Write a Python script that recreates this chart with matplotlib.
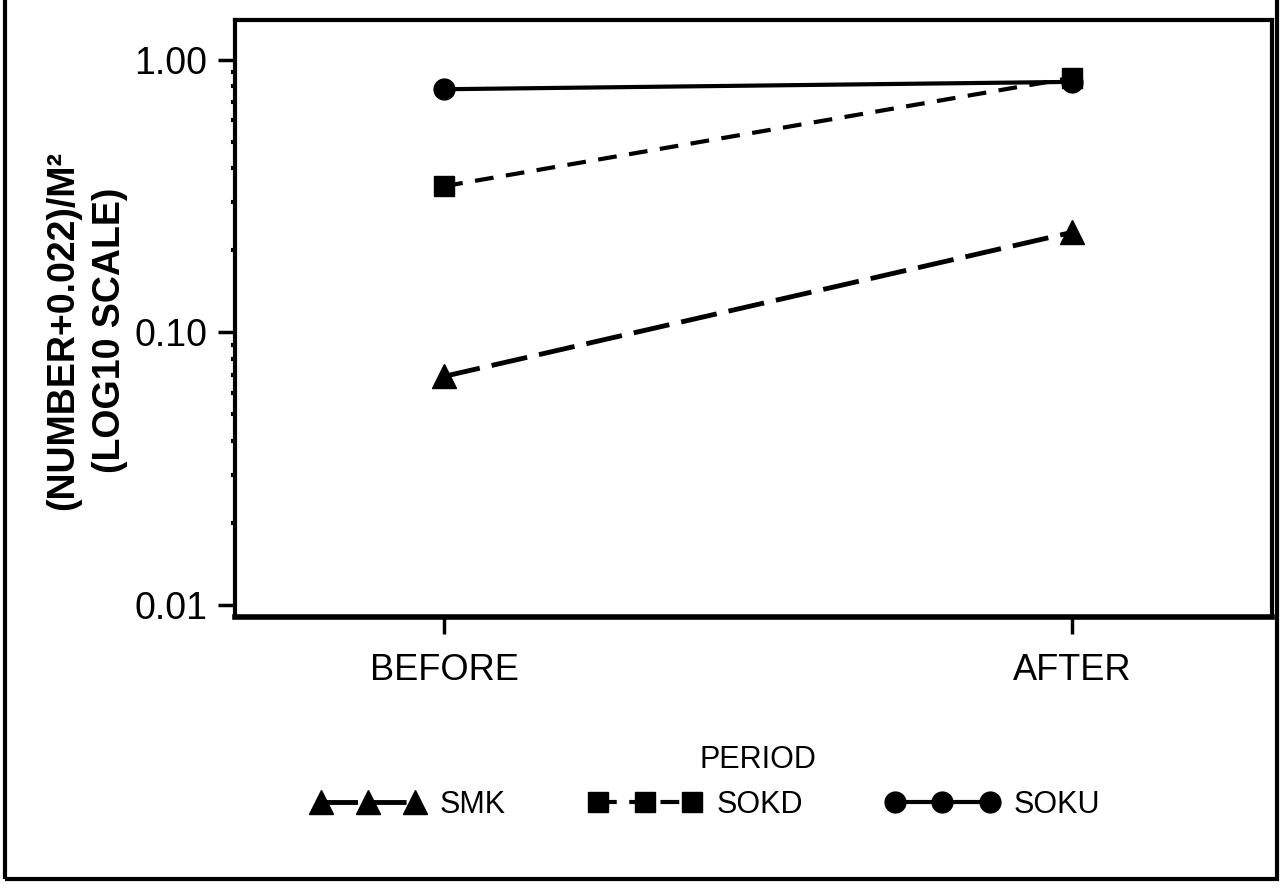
import numpy as np
import matplotlib.pyplot as plt
from matplotlib.ticker import LogLocator, NullFormatter

# values
periods = ['BEFORE', 'AFTER']
smk = [0.069, 0.233]
sokd = [0.344, 0.86]
soku = [0.78, 0.83]
yticks = [0.01, 0.1, 1.0]
ytick_labels = ['0.01', '0.10', '1.00']

plt.rcParams['font.family'] = ['Liberation Sans Narrow', 'Liberation Sans', 'DejaVu Sans']

fig = plt.figure(figsize=(12.81, 8.88), dpi=100)
ax = fig.add_axes([0.1835, 0.3052, 0.8095, 0.6723])

x = np.arange(len(periods))
ax.plot(x, smk, color='black', lw=3.5, ls=(0, (7.5, 2.5)), marker='^', ms=17, label='SMK')
ax.plot(x, sokd, color='black', lw=3, ls=(0, (4.5, 3)), marker='s', ms=14, label='SOKD')
ax.plot(x, soku, color='black', lw=3, ls='-', marker='o', ms=15, label='SOKU')

ax.set_yscale('log')
ax.set_ylim(0.00904, 1.40)
ax.set_xlim(-0.333, 1.318)
ax.set_yticks(yticks)
ax.set_yticklabels(ytick_labels)
ax.yaxis.set_minor_locator(LogLocator(base=10, subs=np.arange(2, 10)))
ax.yaxis.set_minor_formatter(NullFormatter())
ax.set_xticks(x)
ax.set_xticklabels(periods)

ax.tick_params(axis='y', which='major', length=12, width=2.5, labelsize=27, pad=8)
ax.tick_params(axis='y', which='minor', length=3, width=3)
ax.tick_params(axis='x', which='major', length=12, width=2.5, labelsize=26, pad=14)

for side in ['top', 'left', 'right']:
    ax.spines[side].set_linewidth(3)
ax.spines['bottom'].set_linewidth(4)

ax.set_ylabel('(NUMBER+0.022)/M²\n(LOG10 SCALE)', fontsize=27, fontweight='bold',
              linespacing=1.4)
ax.yaxis.set_label_coords(-0.103, 0.48)

ax.set_xlabel('PERIOD', fontsize=22)
ax.xaxis.set_label_coords(0.504, -0.215)

fig.legend(loc='center', bbox_to_anchor=(706 / 1281, 1 - 805 / 888), ncol=3,
           numpoints=3, frameon=False, fontsize=22, handlelength=3.7,
           handletextpad=0.5, columnspacing=2.7)

# outer frame of the scanned page
fig.patches.append(plt.Rectangle((5 / 1281, 1 - 879 / 888), 1272 / 1281, 1.0,
                                 transform=fig.transFigure, fill=False,
                                 lw=3, color='black', clip_on=False))

fig.savefig('out.png', dpi=100)
